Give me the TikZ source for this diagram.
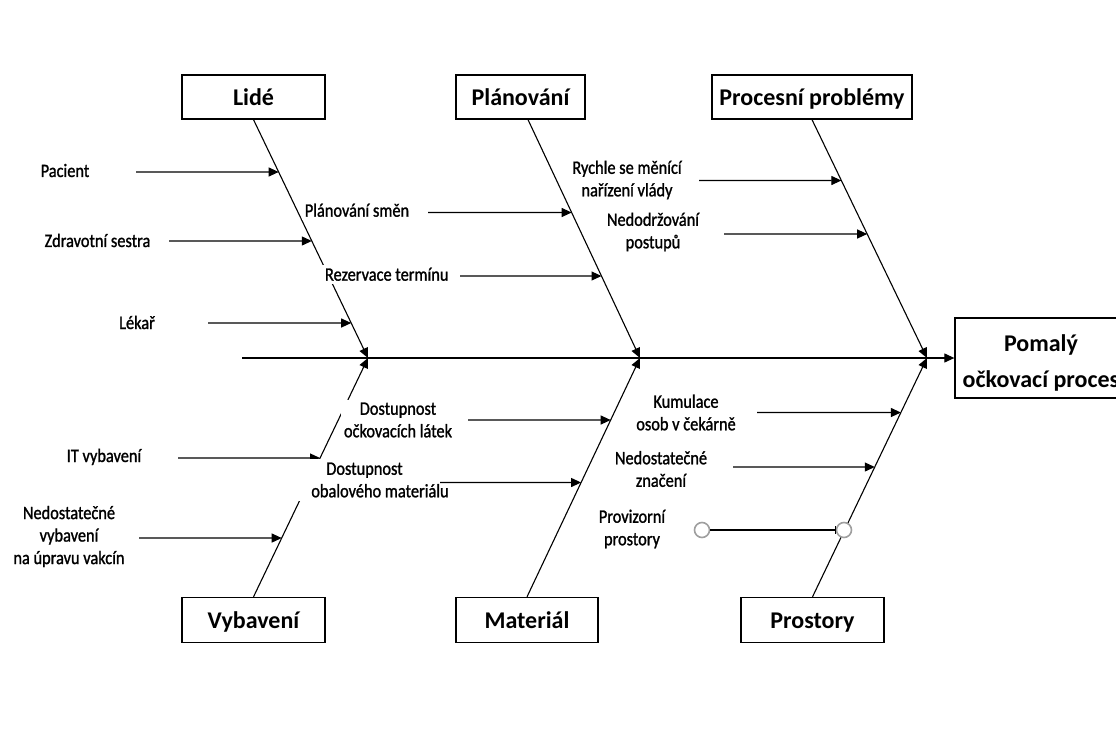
\documentclass[tikz,border=0pt]{standalone}
\usepackage{fontspec}
\setmainfont{Carlito}
\newfontfamily\causefont[FakeStretch=0.86, FakeBold=1.2]{Carlito}
\usetikzlibrary{arrows.meta}

\tikzset{
  tip/.style={-{Triangle[length=10pt,width=9pt]}},
  catbox/.style={draw, line width=1.3pt, fill=white, minimum width=143pt,
    minimum height=44pt, inner sep=0pt, text height=19pt, text depth=1.6pt,
    font=\fontsize{24}{36}\selectfont\bfseries},
  bone/.style={tip, line width=1.1pt},
  cause/.style={tip, line width=1.1pt},
  causetext/.style={fill=white, inner sep=3pt,
    font=\causefont\fontsize{19}{22.5}\selectfont},
  ring/.style={circle, draw=gray!75, line width=1.6pt, fill=white,
    minimum size=15pt, inner sep=0pt},
}

\begin{document}
\begin{tikzpicture}[x=1pt, y=-1pt]
\useasboundingbox (0,0) rectangle (1116,746);
\clip (0,0) rectangle (1116,746);

% category boxes
\node[catbox] (lide)  at (253.5,97) {Lidé};
\node[catbox, minimum width=129pt] (plan) at (520.5,97) {Plánování};
\node[catbox, minimum width=200pt] (proc) at (812,97) {Procesní problémy};
\node[catbox, minimum height=45pt] (vyb) at (253.5,620) {Vybavení};
\node[catbox, minimum width=142pt, minimum height=45pt] (mat) at (527,620) {Materiál};
\node[catbox, minimum height=45pt] (prost) at (812.5,620) {Prostory};

% effect box
\node[draw, line width=1.3pt, fill=white, minimum width=172pt, minimum height=80pt,
      inner sep=0pt, align=center, font=\fontsize{24}{36}\selectfont\bfseries]
      (effect) at (1041,358) {\rule{0pt}{26pt}Pomalý\\očkovací proces};

% spine and joints
\coordinate (s0) at (242,358);
\coordinate (j1) at (368,358);
\coordinate (j2) at (640,358);
\coordinate (j3) at (927,358);
\coordinate (pb) at ([xshift=7.5pt]plan.south);

\draw[bone] (s0) -- (effect.west);
\draw[bone] (lide.south) -- (j1);
\draw[bone] (pb) -- (j2);
\draw[bone] (proc.south) -- (j3);
\draw[bone] (vyb.north) -- (j1);
\draw[bone] (mat.north) -- (j2);
\draw[bone] (prost.north) -- (j3);

% cause start points
\coordinate (a1) at (136,172);
\coordinate (a2) at (169,241);
\coordinate (a3) at (208,323);
\coordinate (a4) at (428,212.5);
\coordinate (a5) at (460,276);
\coordinate (a6) at (699,180.5);
\coordinate (a7) at (724,234);
\coordinate (a8) at (178,458);
\coordinate (a9) at (139,538);
\coordinate (a10) at (468,420);
\coordinate (a11) at (440,482.5);
\coordinate (a12) at (757,412.5);
\coordinate (a13) at (733,467);

\draw[cause] (a8) -- (intersection of vyb.north--j1 and 0,458--1,458);

% cause labels
\node[causetext, anchor=base] (tPac) at (65,177) {Pacient};
\node[causetext, anchor=base] (tZdr) at (97.5,247) {Zdravotní sestra};
\node[causetext, anchor=base] (tLek) at (137,329) {Lékař};
\node[causetext, anchor=base] (tSme) at (357,216.7) {Plánování směn};
\node[causetext, anchor=base] (tRez) at (386.7,280.7) {Rezervace termínu};
\node[causetext, align=center] (tRyc) at (627,180) {Rychle se měnící\\nařízení vlády};
\node[causetext, align=center] (tNed) at (653,232) {Nedodržování\\postupů};
\node[causetext, anchor=base] (tIT) at (104,462) {IT vybavení};
\node[causetext, align=center] (tVak) at (69,536.5) {Nedostatečné\\vybavení\\na úpravu vakcín};
\node[causetext, align=center] (tOck) at (398,420) {Dostupnost\\očkovacích látek};
\node[causetext, align=left, inner xsep=22pt, inner ysep=4pt] (tObl) at (380,480)
      {\hspace*{15pt}Dostupnost\\obalového materiálu};
\node[causetext, align=center] (tKum) at (686,412.5) {Kumulace\\osob v čekárně};
\node[causetext, align=center] (tZna) at (661,469) {Nedostatečné\\značení};
\node[causetext, align=center] (tPro) at (632,529) {Provizorní\\prostory};

% cause arrows
\draw[cause] (a1) -- (intersection of lide.south--j1 and 0,172--1,172);
\draw[cause] (a2) -- (intersection of lide.south--j1 and 0,241--1,241);
\draw[cause] (a3) -- (intersection of lide.south--j1 and 0,323--1,323);
\draw[cause] (a4) -- (intersection of pb--j2 and 0,212.5--1,212.5);
\draw[cause] (a5) -- (intersection of pb--j2 and 0,276--1,276);
\draw[cause] (a6) -- (intersection of proc.south--j3 and 0,180.5--1,180.5);
\draw[cause] (a7) -- (intersection of proc.south--j3 and 0,234--1,234);
\draw[cause] (a9) -- (intersection of vyb.north--j1 and 0,538--1,538);
\draw[cause] (a10) -- (intersection of mat.north--j2 and 0,420--1,420);
\draw[cause] (a11) -- (intersection of mat.north--j2 and 0,482.5--1,482.5);
\draw[cause] (a12) -- (intersection of prost.north--j3 and 0,412.5--1,412.5);
\draw[cause] (a13) -- (intersection of prost.north--j3 and 0,467--1,467);

% temporary premises link
\node[ring] (c1) at (702,530) {};
\node[ring] (c2) at (844,530) {};
\draw[line width=1.1pt, -{Bar[width=8pt, line width=1.1pt]}] (c1) -- (c2);

\end{tikzpicture}
\end{document}
